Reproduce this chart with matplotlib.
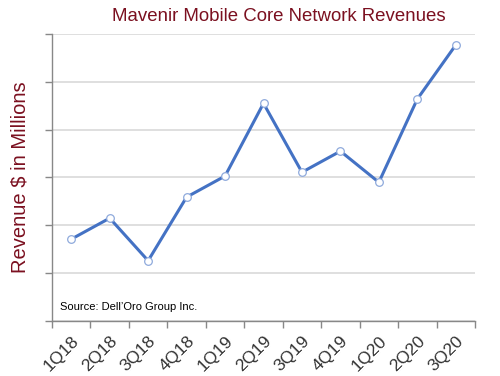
import matplotlib
matplotlib.use("Agg")
import matplotlib.pyplot as plt
import numpy as np

quarters = ["1Q18", "2Q18", "3Q18", "4Q18", "1Q19", "2Q19", "3Q19", "4Q19", "1Q20", "2Q20", "3Q20"]
revenue = [1.71, 2.15, 1.26, 2.59, 3.03, 4.55, 3.11, 3.55, 2.90, 4.64, 5.77]

plt.rcParams['font.family'] = ['Liberation Sans', 'DejaVu Sans']

fig = plt.figure(figsize=(5, 3.76), dpi=100)
ax = fig.add_axes([0.104, 0.1463, 0.846, 0.7633])

x = np.arange(len(quarters))
ax.plot(x, revenue, color='#4472C4', lw=2.2, marker='o', ms=5.5,
        mfc='white', mec='#8FAADC', mew=0.9, zorder=3)

ax.set_xlim(-0.5, len(quarters) - 0.5)
ax.set_ylim(0, 6)
ax.set_yticks(np.arange(0, 7, 1))
ax.set_yticklabels([])
ax.yaxis.grid(True, color='#D9D9D9', lw=1.2)
ax.set_axisbelow(True)

ax.set_xticks(x)
ax.set_xticklabels(quarters, rotation=45, ha='right', rotation_mode='anchor', fontsize=12.5, color='#333333')
ax.tick_params(axis='x', which='major', length=0, pad=9)
ax.set_xticks(np.arange(-0.5, len(quarters), 1), minor=True)
ax.tick_params(axis='x', which='minor', length=5, color='#888888', width=1)
ax.tick_params(axis='y', length=5, color='#888888', width=1)

for s in ['top', 'right']:
    ax.spines[s].set_visible(False)
for s in ['left', 'bottom']:
    ax.spines[s].set_color('#888888')
    ax.spines[s].set_linewidth(1)

ax.set_ylabel("Revenue $ in Millions", color='#7B1020', fontsize=14.5, labelpad=8)
fig.text(0.558, 0.955, "Mavenir Mobile Core Network Revenues", color='#7B1020',
         fontsize=13.4, ha='center', va='center')
ax.text(0.02, 0.03, "Source: Dell\u2019Oro Group Inc.", transform=ax.transAxes,
        fontsize=8, color='black', ha='left', va='bottom')

fig.savefig("out.png", dpi=100)
